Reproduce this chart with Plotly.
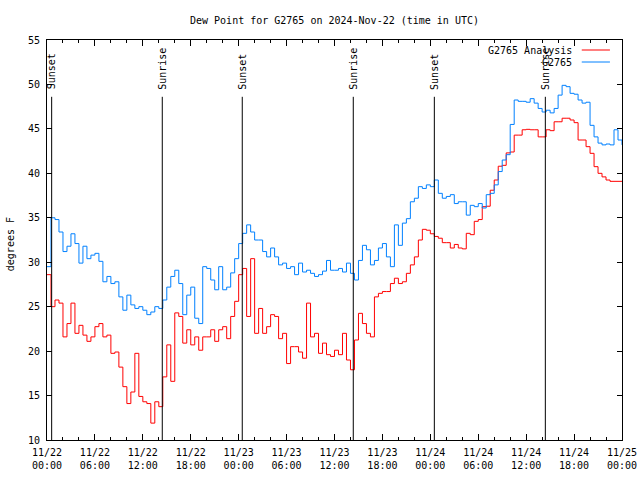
import plotly.graph_objects as go
import pandas as pd

# ---- data ----
start_time = "2024-11-22 00:00"
sample_step = "30min"

g2765_vals = [
    29.5, 35.0, 34.8, 33.4, 31.2, 31.8, 33.2, 32.1, 29.9, 31.8,
    30.4, 30.8, 31.0, 30.1, 27.8, 28.4, 27.6, 27.8, 26.1, 24.6,
    26.3, 25.2, 24.8, 25.0, 24.6, 24.1, 24.4, 25.0, 24.8, 25.75,
    27.2, 28.4, 29.1, 27.6, 24.1, 26.3, 27.2, 23.7, 23.1, 29.5,
    29.3, 28.0, 26.9, 29.5, 26.9, 27.2, 28.8, 30.4, 32.1, 33.25,
    34.2, 33.4, 32.5, 32.5, 31.2, 30.6, 31.6, 30.6, 29.7, 29.9,
    29.3, 29.5, 28.6, 29.9, 28.9, 29.1, 28.75, 28.4, 28.6, 29.0,
    30.2, 29.1, 29.1, 29.3, 28.9, 29.9, 28.75, 28.0, 30.2, 31.9,
    31.4, 29.7, 30.2, 31.6, 32.1, 30.6, 29.5, 34.2, 31.9, 34.4,
    34.9, 36.8, 37.2, 38.5, 38.3, 38.7, 38.5, 39.25, 37.75, 37.2,
    37.4, 37.6, 36.6, 36.8, 36.8, 35.3, 36.4, 36.25, 36.6, 36.1,
    37.6, 37.75, 38.7, 40.2, 41.5, 42.1, 45.5, 48.25, 48.1, 48.1,
    48.0, 48.4, 47.9, 47.3, 46.9, 47.1, 46.8, 47.3, 48.8, 49.9,
    49.75, 49.0, 48.9, 48.25, 47.9, 48.0, 45.4, 44.1, 43.4, 43.2,
    43.3, 43.2, 44.9, 43.75, 43.2,
]

analysis_vals = [
    28.6, 25.0, 25.75, 25.4, 21.6, 23.1, 25.4, 22.0, 22.9, 21.8,
    21.1, 21.6, 22.75, 23.1, 21.6, 21.8, 19.75, 19.9, 18.2, 16.0,
    14.1, 15.4, 19.75, 14.9, 14.3, 14.1, 11.9, 14.3, 13.75, 17.1,
    20.7, 16.6, 24.3, 23.9, 20.9, 22.4, 20.7, 21.6, 20.1, 21.6,
    21.6, 22.4, 21.1, 22.4, 22.75, 21.4, 23.9, 25.6, 28.6, 29.3,
    23.9, 30.4, 22.0, 24.8, 22.0, 22.75, 24.1, 23.9, 21.4, 22.0,
    18.6, 20.5, 20.5, 19.9, 19.2, 25.4, 21.6, 22.0, 19.75, 20.9,
    19.6, 19.4, 20.1, 19.6, 22.0, 19.0, 17.9, 21.25, 24.25, 23.1,
    22.0, 21.6, 26.1, 26.5, 26.7, 26.7, 27.6, 28.2, 27.6, 27.8,
    28.75, 29.7, 30.6, 32.5, 33.7, 33.6, 33.2, 32.9, 32.7, 32.2,
    32.2, 31.6, 32.0, 31.6, 31.5, 33.25, 33.1, 34.6, 34.8, 36.25,
    36.3, 38.1, 39.25, 40.8, 40.9, 42.3, 42.4, 44.3, 44.3, 44.9,
    44.95, 44.9, 44.9, 44.1, 44.1, 44.9, 44.8, 45.8, 45.8, 46.2,
    46.2, 46.0, 45.7, 43.75, 43.75, 43.0, 42.25, 40.75, 40.0, 39.6,
    39.25, 39.1, 39.1, 39.1, 39.1,
]

event_times = [
    "2024-11-22 00:35", "2024-11-22 14:26", "2024-11-23 00:27",
    "2024-11-23 14:21", "2024-11-24 00:30", "2024-11-24 14:24",
]
event_labels = ["Sunset", "Sunrise", "Sunset", "Sunrise", "Sunset", "Sunrise"]

series_names = ["G2765 Analysis", "G2765"]
series_colors = ["#ff0000", "#0080ff"]

x_range = ["2024-11-22 00:00", "2024-11-25 00:00"]
y_range = [10, 55]

# ---- figure ----
times = pd.date_range(start_time, periods=len(g2765_vals), freq=sample_step)
FONT = "DejaVu Sans Mono"
HOUR_MS = 3600 * 1000

fig = go.Figure()
for name, vals, col in zip(series_names, [analysis_vals, g2765_vals], series_colors):
    fig.add_trace(go.Scatter(
        x=times, y=vals, mode="lines", name=name,
        line=dict(color=col, width=1, shape="hv"),
        showlegend=False, hoverinfo="skip",
    ))

# sunrise / sunset markers
for t, lab in zip(event_times, event_labels):
    fig.add_shape(type="line", xref="x", yref="paper", x0=t, x1=t, y0=0, y1=0.858,
                  line=dict(color="black", width=1))
    fig.add_annotation(x=t, xref="x", y=0.871, yref="paper", text=lab, textangle=-90,
                       showarrow=False, xanchor="center", yanchor="bottom",
                       font=dict(family=FONT, size=10, color="black"))

# gnuplot-style legend (text right-aligned, sample line to the right)
legend_rows_y = [0.975, 0.945]
for name, col, yy in zip(series_names, series_colors, legend_rows_y):
    fig.add_annotation(x=0.9165, xref="paper", y=yy, yref="paper", text=name,
                       showarrow=False, xanchor="right", yanchor="middle",
                       font=dict(family=FONT, size=10, color="black"))
    fig.add_shape(type="line", xref="paper", yref="paper", x0=0.930, x1=0.979,
                  y0=yy, y1=yy, line=dict(color=col, width=1))

# y-axis label
fig.add_annotation(x=-0.064, xref="paper", y=0.49, yref="paper", text="degrees F",
                   textangle=-90, showarrow=False, xanchor="center", yanchor="middle",
                   font=dict(family=FONT, size=10, color="black"))

fig.update_layout(
    width=640, height=480, autosize=False,
    margin=dict(l=47, r=18, t=40, b=40, pad=0, autoexpand=False),
    paper_bgcolor="white", plot_bgcolor="white",
    font=dict(family=FONT, size=10, color="black"),
    title=dict(text="Dew Point for G2765 on 2024-Nov-22 (time in UTC)",
               x=0.5, xref="paper", xanchor="center",
               y=1 - 20 / 480, yref="container", yanchor="middle",
               font=dict(family=FONT, size=10, color="black")),
    showlegend=False,
    hovermode=False,
)

fig.update_xaxes(
    type="date", range=x_range, tick0=x_range[0], dtick=6 * HOUR_MS,
    tickformat="%m/%d<br>%H:%M", ticks="inside", ticklen=6, tickcolor="black",
    showline=True, linecolor="black", linewidth=1, mirror="allticks",
    showgrid=False, zeroline=False, automargin=False, ticklabelstandoff=3,
    minor=dict(dtick=2 * HOUR_MS, tick0=x_range[0], ticks="inside", ticklen=3,
               tickcolor="black", showgrid=False),
    tickfont=dict(family=FONT, size=10, color="black"),
)
fig.update_yaxes(
    range=y_range, dtick=5, tick0=10, ticks="inside", ticklen=5, tickcolor="black",
    showline=True, linecolor="black", linewidth=1, mirror="allticks",
    showgrid=False, zeroline=False, automargin=False, ticklabelstandoff=4,
    tickfont=dict(family=FONT, size=10, color="black"),
)

fig.write_html(
    "out.html",
    config={"displayModeBar": False, "staticPlot": True},
    post_script="document.body.style.margin='0';document.body.style.padding='0';",
)
